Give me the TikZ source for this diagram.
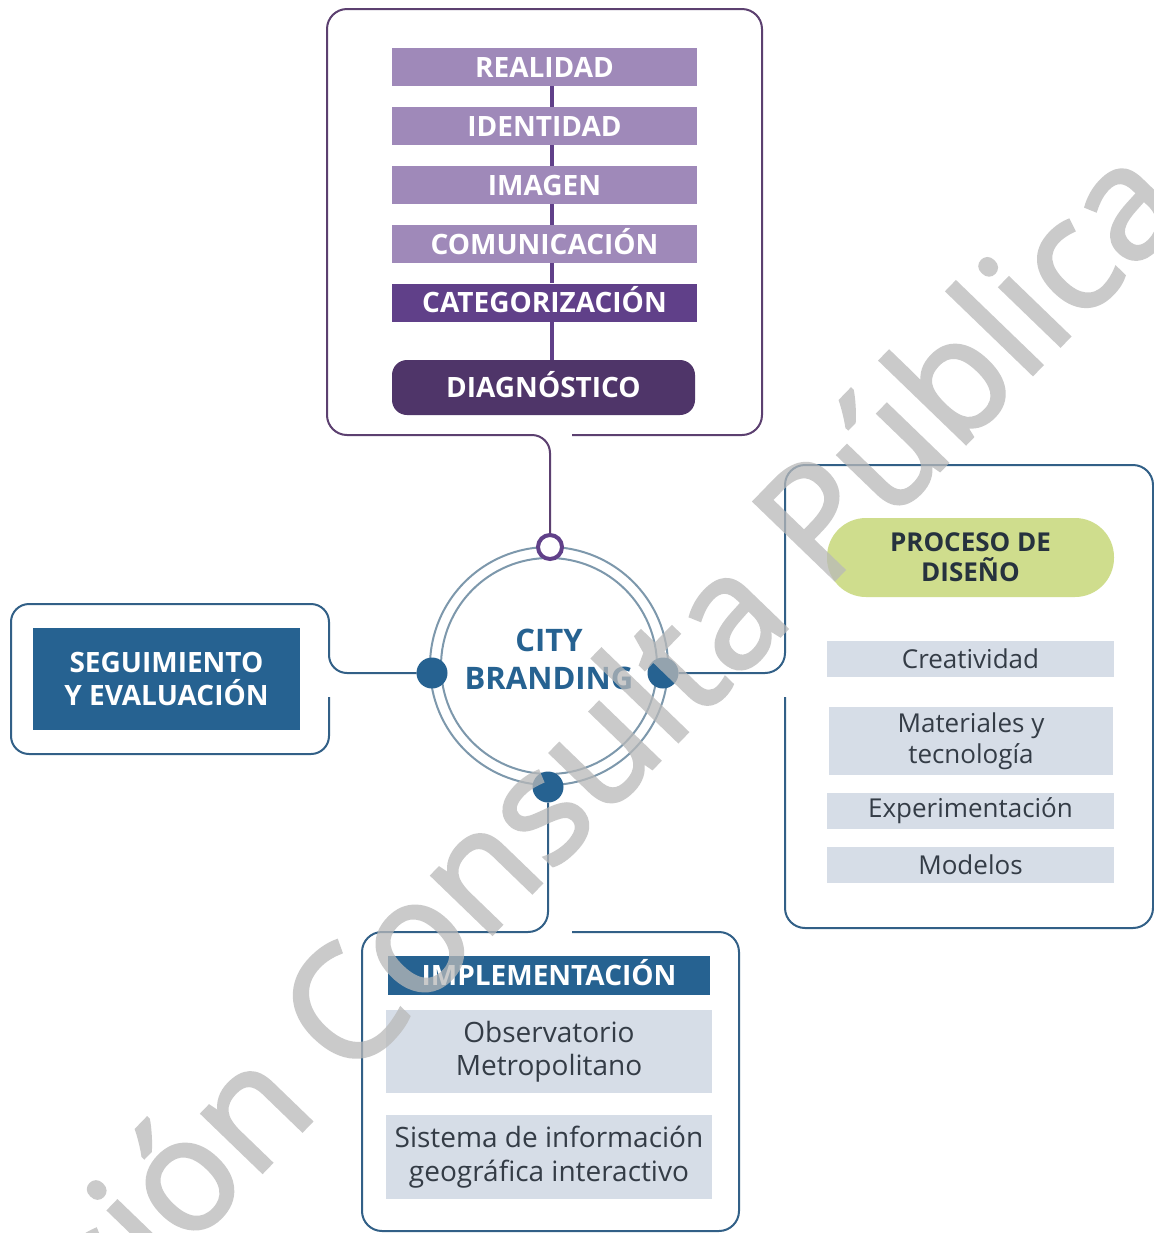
\documentclass[tikz,border=0pt]{standalone}
\usepackage{fontspec}
\setmainfont{Open Sans}
\newfontfamily\wmfont[FakeBold=2]{Open Sans}
\usetikzlibrary{calc}
\definecolor{lpurple}{RGB}{159,137,185}
\definecolor{mpurple}{RGB}{96,64,137}
\definecolor{dpurple}{RGB}{79,53,105}
\definecolor{boxpurple}{RGB}{92,64,112}
\definecolor{cblue}{RGB}{38,98,145}
\definecolor{boxblue}{RGB}{50,96,135}
\definecolor{ringc}{RGB}{125,152,172}
\definecolor{greyfill}{RGB}{214,221,231}
\definecolor{pillc}{RGB}{207,221,141}
\definecolor{darktext}{RGB}{38,50,62}
\definecolor{greytext}{RGB}{52,60,70}
\definecolor{wmc}{RGB}{185,185,185}
\begin{document}
\begin{tikzpicture}[x=0.5pt,y=-0.5pt,
  bar/.style={fill=lpurple, text=white, minimum width=152.5pt, minimum height=19pt,
    inner sep=0pt, font=\bfseries\fontsize{14}{17}\selectfont, text height=10pt, text depth=0pt},
  vline/.style={draw=mpurple, line width=2pt},
  boxp/.style={draw=boxpurple, line width=1pt},
  boxb/.style={draw=boxblue, line width=1pt},
  ring/.style={draw=ringc, line width=1pt},
  dot/.style={circle, fill=cblue, minimum size=15.5pt, inner sep=0pt, outer sep=0pt},
  odot/.style={circle, draw=mpurple, line width=2pt, fill=white, minimum size=12pt, inner sep=0pt},
  centertext/.style={text=cblue, align=center, font=\bfseries\fontsize{15.5}{19}\selectfont, inner sep=0pt},
  titlebox/.style={fill=cblue, text=white, inner sep=0pt, align=center,
    font=\bfseries\fontsize{14}{16.5}\selectfont},
  greybox/.style={fill=greyfill, text=greytext, inner sep=0pt, align=center},
  pillbox/.style={fill=pillc, text=darktext, rounded corners=19.5pt, inner sep=0pt, align=center,
    font=\bfseries\fontsize{13}{15}\selectfont}
]
\useasboundingbox (0,0) rectangle (1154,1233);
\fill[white] (0,0) rectangle (1154,1233);

% top column
\node[bar] (realidad) at (544.5,67) {REALIDAD};
\node[bar] (identidad) at (544.5,126) {IDENTIDAD};
\node[bar] (imagen) at (544.5,185) {IMAGEN};
\node[bar] (comunic) at (544.5,244) {COMUNICACIÓN};
\node[bar, fill=mpurple] (categ) at (544.5,302.5) {CATEGORIZACIÓN};
\node[bar, fill=dpurple, rounded corners=7.5pt, minimum width=151.5pt, minimum height=27.5pt] (diag) at (543.5,387.5) {DIAGNÓSTICO};
\draw[vline] ([xshift=3.75pt]realidad.south) -- ([xshift=3.75pt]identidad.north);
\draw[vline] ([xshift=3.75pt]identidad.south) -- ([xshift=3.75pt]imagen.north);
\draw[vline] ([xshift=3.75pt]imagen.south) -- ([xshift=3.75pt]comunic.north);
\draw[vline] ([xshift=3.75pt]comunic.south) -- ([xshift=3.75pt]categ.north);
\draw[vline] ([xshift=3.75pt]categ.south) -- ([xshift=4.25pt]diag.north);

% centre
\draw[ring] (549,666) circle[radius=59.5pt];
\draw[ring] (549,666) circle[radius=54pt];
\node[centertext] (city) at (549,659) {CITY\\BRANDING};
\node[dot] (leftdot) at (432,673) {};
\node[dot] (rightdot) at (663,673) {};
\node[dot] (bottomdot) at (548,787) {};
\node[odot] (topdot) at (550,547) {};

% frames with connectors
\draw[boxp] (572,435) [rounded corners=10pt] -- (762,435) -- (762,9) -- (327,9) -- (327,435) [rounded corners=9pt] -- (550,435) -- (topdot.north);
\draw[boxb] (329,697) [rounded corners=9pt] -- (329,754) -- (11,754) -- (11,604) -- (329,604) -- (329,673) -- (leftdot.west);
\draw[boxb] (785,697) [rounded corners=10pt] -- (785,928) -- (1153,928) -- (1153,465) -- (785,465) -- (785,673) -- (rightdot.east);
\draw[boxb] (572,932) [rounded corners=10pt] -- (739,932) -- (739,1231) -- (362,1231) -- (362,932) -- (548,932) -- (bottomdot.south);

% left
\node[titlebox, minimum width=133.5pt, minimum height=51pt] (seguim) at (166.5,679) {SEGUIMIENTO\\Y EVALUACIÓN};

% right
\node[pillbox, minimum width=143.5pt, minimum height=39.5pt] (proceso) at (970.5,557.5) {PROCESO DE\\DISEÑO};
\node[greybox, minimum width=143.5pt, minimum height=18pt, font=\fontsize{13}{15.5}\selectfont] (creat) at (970.5,659) {Creatividad};
\node[greybox, minimum width=142pt, minimum height=34pt, font=\fontsize{13}{15.5}\selectfont] (mater) at (971,741) {Materiales y\\tecnología};
\node[greybox, minimum width=143.5pt, minimum height=18pt, font=\fontsize{13}{15.5}\selectfont] (exper) at (970.5,811) {Experimentación};
\node[greybox, minimum width=143.5pt, minimum height=18pt, font=\fontsize{13}{15.5}\selectfont] (model) at (970.5,865) {Modelos};

% bottom
\node[titlebox, minimum width=161pt, minimum height=19.5pt, text height=10pt, text depth=0pt] (implem) at (549,975.5) {IMPLEMENTACIÓN};
\node[greybox, minimum width=163pt, minimum height=41.5pt, font=\fontsize{14}{16.5}\selectfont] (observ) at (549,1051.5) {Observatorio\\Metropolitano};
\node[greybox, minimum width=163pt, minimum height=42pt, font=\fontsize{14}{17}\selectfont] (sistema) at (549,1157) {Sistema de información\\geográfica interactivo};

% watermark
\begin{scope}[transparency group, opacity=0.75]
\clip (0,0) rectangle (1154,1233);
\node[anchor=base west, rotate=46, inner sep=0pt, text=wmc,
  font=\wmfont\fontsize{78.5}{78.5}\selectfont] (wmark) at (-61,1507) {Versión Consulta Pública};
\end{scope}
\end{tikzpicture}
\end{document}
